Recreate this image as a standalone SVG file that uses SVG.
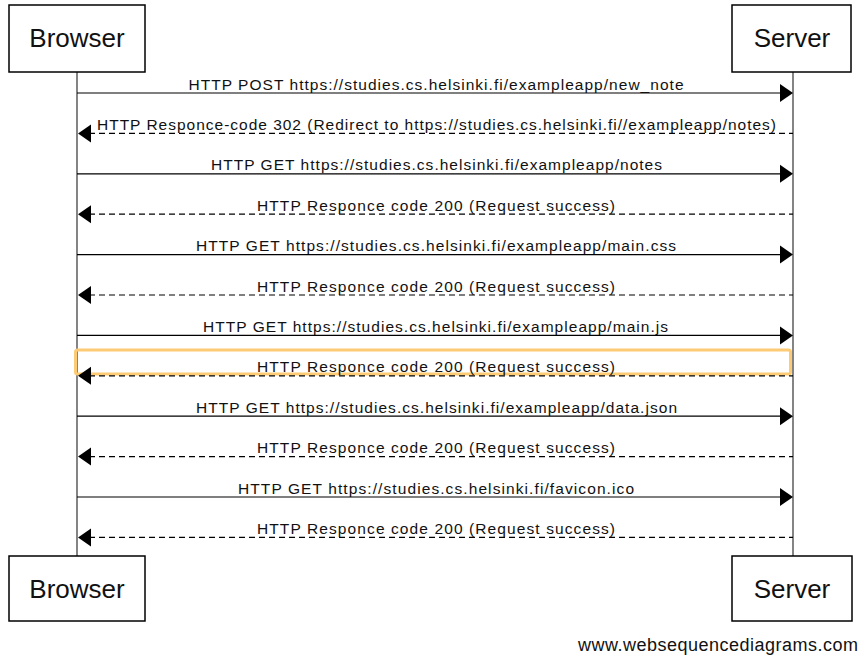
<svg xmlns="http://www.w3.org/2000/svg" width="867" height="663" viewBox="0 0 867 663">
  <style>
    .actor rect { fill: #ffffff; stroke: #000000; stroke-width: 1.5; }
    .actor text { font-family: "Liberation Sans", Arial, sans-serif; font-size: 26px; fill: #111111; text-anchor: middle; }
    .lifeline { stroke: #333333; stroke-width: 1.2; }
    .msg { stroke: #000000; stroke-width: 1.2; fill: none; }
    .reply { stroke-dasharray: 6 4; }
    .label { font-family: "Liberation Sans", Arial, sans-serif; font-size: 15.5px; fill: #111111; text-anchor: middle; }
    .head { fill: #000000; }
    .highlight { fill: none; stroke: #FCCB74; stroke-width: 3; }
    .footer { font-family: "Liberation Sans", Arial, sans-serif; font-size: 18px; fill: #111111; }
  </style>

  <rect x="0" y="0" width="867" height="663" fill="#ffffff"/>

  <!-- lifelines -->
  <g id="lifelines">
    <line class="lifeline" x1="77" y1="72" x2="77" y2="556"/>
    <line class="lifeline" x1="793" y1="72" x2="793" y2="556"/>
  </g>

  <!-- participants, top and bottom -->
  <g id="browser-top" class="actor">
    <rect x="9" y="5" width="136" height="67"/>
    <text x="77" y="47">Browser</text>
  </g>
  <g id="server-top" class="actor">
    <rect x="732" y="5" width="119" height="67"/>
    <text x="792" y="47">Server</text>
  </g>
  <g id="browser-bottom" class="actor">
    <rect x="9" y="556" width="136" height="65"/>
    <text x="77" y="598">Browser</text>
  </g>
  <g id="server-bottom" class="actor">
    <rect x="732" y="556" width="120" height="65"/>
    <text x="792" y="598">Server</text>
  </g>

  <!-- highlighted reply -->
  <rect id="focus" class="highlight" x="75.5" y="350" width="715" height="24" rx="2"/>

  <!-- messages -->
  <g id="messages">
    <!-- 1 -->
    <line class="msg" x1="77" y1="93" x2="781" y2="93"/>
    <polygon class="head" points="780,84 793,93 780,102"/>
    <text class="label" x="436" y="89.5" textLength="495" lengthAdjust="spacing">HTTP POST https://studies.cs.helsinki.fi/exampleapp/new_note</text>
    <!-- 2 -->
    <line class="msg reply" x1="89" y1="133.4" x2="793" y2="133.4"/>
    <polygon class="head" points="91,124.4 78,133.4 91,142.4"/>
    <text class="label" x="436.5" y="129.9" textLength="679" lengthAdjust="spacing">HTTP Responce-code 302 (Redirect to https://studies.cs.helsinki.fi//exampleapp/notes)</text>
    <!-- 3 -->
    <line class="msg" x1="77" y1="173.8" x2="781" y2="173.8"/>
    <polygon class="head" points="780,164.8 793,173.8 780,182.8"/>
    <text class="label" x="436.5" y="170.3" textLength="451" lengthAdjust="spacing">HTTP GET https://studies.cs.helsinki.fi/exampleapp/notes</text>
    <!-- 4 -->
    <line class="msg reply" x1="89" y1="214.2" x2="793" y2="214.2"/>
    <polygon class="head" points="91,205.2 78,214.2 91,223.2"/>
    <text class="label" x="436" y="210.7" textLength="358" lengthAdjust="spacing">HTTP Responce code 200 (Request success)</text>
    <!-- 5 -->
    <line class="msg" x1="77" y1="254.6" x2="781" y2="254.6"/>
    <polygon class="head" points="780,245.6 793,254.6 780,263.6"/>
    <text class="label" x="436" y="251.1" textLength="480" lengthAdjust="spacing">HTTP GET https://studies.cs.helsinki.fi/exampleapp/main.css</text>
    <!-- 6 -->
    <line class="msg reply" x1="89" y1="295" x2="793" y2="295"/>
    <polygon class="head" points="91,286 78,295 91,304"/>
    <text class="label" x="436" y="291.5" textLength="358" lengthAdjust="spacing">HTTP Responce code 200 (Request success)</text>
    <!-- 7 -->
    <line class="msg" x1="77" y1="335.4" x2="781" y2="335.4"/>
    <polygon class="head" points="780,326.4 793,335.4 780,344.4"/>
    <text class="label" x="435.5" y="331.9" textLength="465" lengthAdjust="spacing">HTTP GET https://studies.cs.helsinki.fi/exampleapp/main.js</text>
    <!-- 8 -->
    <line class="msg reply" x1="89" y1="375.8" x2="793" y2="375.8"/>
    <polygon class="head" points="91,366.8 78,375.8 91,384.8"/>
    <text class="label" x="436" y="372.3" textLength="358" lengthAdjust="spacing">HTTP Responce code 200 (Request success)</text>
    <!-- 9 -->
    <line class="msg" x1="77" y1="416.2" x2="781" y2="416.2"/>
    <polygon class="head" points="780,407.2 793,416.2 780,425.2"/>
    <text class="label" x="436.5" y="412.7" textLength="481" lengthAdjust="spacing">HTTP GET https://studies.cs.helsinki.fi/exampleapp/data.json</text>
    <!-- 10 -->
    <line class="msg reply" x1="89" y1="456.6" x2="793" y2="456.6"/>
    <polygon class="head" points="91,447.6 78,456.6 91,465.6"/>
    <text class="label" x="436" y="453.1" textLength="358" lengthAdjust="spacing">HTTP Responce code 200 (Request success)</text>
    <!-- 11 -->
    <line class="msg" x1="77" y1="497" x2="781" y2="497"/>
    <polygon class="head" points="780,488 793,497 780,506"/>
    <text class="label" x="436" y="493.5" textLength="396" lengthAdjust="spacing">HTTP GET https://studies.cs.helsinki.fi/favicon.ico</text>
    <!-- 12 -->
    <line class="msg reply" x1="89" y1="537.4" x2="793" y2="537.4"/>
    <polygon class="head" points="91,528.4 78,537.4 91,546.4"/>
    <text class="label" x="436" y="533.9" textLength="358" lengthAdjust="spacing">HTTP Responce code 200 (Request success)</text>
  </g>

  <text class="footer" x="578" y="651" textLength="280" lengthAdjust="spacing">www.websequencediagrams.com</text>
</svg>
